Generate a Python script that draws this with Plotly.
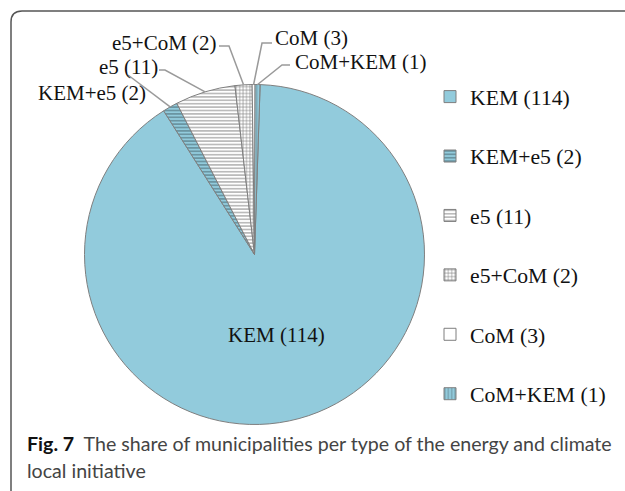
import math
import plotly.graph_objects as go

W, H = 625, 491

# ---- data ----
names = ["KEM", "KEM+e5", "e5", "e5+CoM", "CoM", "CoM+KEM"]
counts = [114, 2, 11, 2, 3, 1]
# slice sweep as drawn in the picture (degrees, estimated)
shares = [325.8, 5.1, 20.6, 5.8, 1.0, 1.7]
start_rotation = 1.9

caption_bold = "Fig. 7"
caption_line1 = "The share of municipalities per type of the energy and climate"
caption_line2 = "local initiative"

# ---- styling ----
BLUE = "#92CBDC"
fills = [BLUE, BLUE, "white", "white", "white", BLUE]
shapes_pat = ["", "-", "-", "+", "", "|"]
fgs = ["#333", "#1f2f35", "#3a3a3a", "#111", "#333", "#55707a"]

cx, cy, R = 254.5, 254.5, 170.0  # pixel layout of the pie


def px(x):
    return x / W


def py(y):
    return 1 - y / H


legend_text = [f"{n} ({c})<br>\u00a0" for n, c in zip(names, counts)]

fig = go.Figure()
fig.add_trace(go.Pie(
    labels=legend_text,
    values=shares,
    sort=False,
    direction="clockwise",
    rotation=start_rotation,
    textinfo="none",
    hoverinfo="label+value",
    marker=dict(
        colors=fills,
        line=dict(color="#7f7f7f", width=1),
        pattern=dict(shape=shapes_pat, fgcolor=fgs, bgcolor=fills,
                     size=3.4, solidity=0.35, fillmode="overlay"),
    ),
    domain=dict(x=[px(cx - R), px(cx + R)], y=[py(cy + R), py(cy - R)]),
    showlegend=True,
))

# slice mid-angles computed from the data
total = sum(shares)
mids = []
acc = start_rotation
for s in shares:
    mids.append(acc + s / total * 360 / 2)
    acc += s / total * 360


def edge_point(angle_deg, frac=1.0):
    a = math.radians(angle_deg)
    return cx + frac * R * math.sin(a), cy - frac * R * math.cos(a)


annotations = []
shapes = []
FONT = "Liberation Serif"

# inside label for the large slice
ix, iy = edge_point(mids[0], 0.49)
annotations.append(dict(x=px(ix), y=py(iy), xref="paper", yref="paper",
                        text=f"{names[0]} ({counts[0]})", showarrow=False,
                        font=dict(family=FONT, size=21, color="#111"),
                        xanchor="center", yanchor="middle"))

# outside labels: (text anchor x, y, xanchor, leader start, elbow)
outside = {
    1: dict(x=36, y=93, xa="left", start=(128, 75), elbow=None),
    2: dict(x=97, y=67, xa="left", start=(159, 70), elbow=(165, 70)),
    3: dict(x=110, y=43, xa="left", start=(219, 46), elbow=(229, 46)),
    4: dict(x=273, y=38, xa="left", start=(272, 43), elbow=(262, 43)),
    5: dict(x=293, y=62, xa="left", start=(290, 65), elbow=(282, 65)),
}
for i, o in outside.items():
    annotations.append(dict(x=px(o["x"]), y=py(o["y"]), xref="paper", yref="paper",
                            text=f"{names[i]} ({counts[i]})", showarrow=False,
                            font=dict(family=FONT, size=21, color="#111"),
                            xanchor=o["xa"], yanchor="middle"))
    ex, ey = edge_point(mids[i])
    pts = [o["start"]] + ([o["elbow"]] if o["elbow"] else []) + [(ex, ey)]
    path = "M " + " L ".join(f"{px(a):.5f},{py(b):.5f}" for a, b in pts)
    shapes.append(dict(type="path", path=path, xref="paper", yref="paper",
                       line=dict(color="#9a9a9a", width=1.5)))

# outer rounded frame
fp = (f"M {px(11)},{py(520)} L {px(11)},{py(22)} "
      f"Q {px(11)},{py(11)} {px(22)},{py(11)} L {px(660)},{py(11)}")
shapes.append(dict(type="path", path=fp, xref="paper", yref="paper",
                   line=dict(color="#555", width=1.5)))

# caption
CAP_FONT = "Lato"
CAP_SIZE = 19.6
annotations.append(dict(x=px(25), y=py(443), xref="paper", yref="paper",
                        text=f"<b><span style='color:#111'>{caption_bold}</span></b>  {caption_line1}",
                        showarrow=False, xanchor="left", yanchor="middle",
                        font=dict(family=CAP_FONT, size=CAP_SIZE, color="#444")))
annotations.append(dict(x=px(25), y=py(470), xref="paper", yref="paper",
                        text=caption_line2,
                        showarrow=False, xanchor="left", yanchor="middle",
                        font=dict(family=CAP_FONT, size=CAP_SIZE, color="#444")))

fig.update_layout(
    width=W, height=H,
    margin=dict(l=0, r=0, t=0, b=0),
    paper_bgcolor="white", plot_bgcolor="white",
    showlegend=True,
    legend=dict(x=px(430), y=py(76), xanchor="left", yanchor="top",
                font=dict(family=FONT, size=21.7, color="#111"),
                itemwidth=30, valign="top", bgcolor="rgba(0,0,0,0)",
                tracegroupgap=0),
    annotations=annotations,
    shapes=shapes,
)

fig.write_html("out.html", config={"displayModeBar": False},
               post_script="document.body.style.margin='0';")
